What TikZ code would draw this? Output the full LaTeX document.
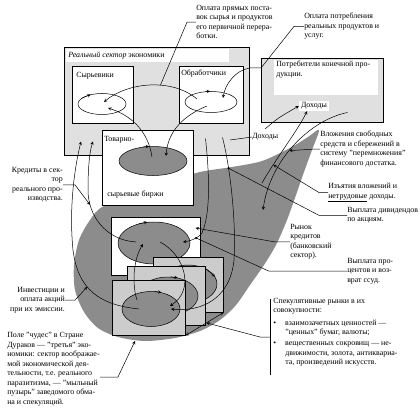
\documentclass[tikz,border=0pt]{standalone}
\usepackage{fontspec}
\setmainfont{Liberation Serif}
\usetikzlibrary{shapes.geometric}
\definecolor{pale}{gray}{0.88}
\definecolor{mid}{gray}{0.8}
\definecolor{dark}{gray}{0.55}

\begin{document}
\begin{tikzpicture}[x=1pt,y=-1pt,line width=0.5pt,
  txt/.style={inner sep=0pt,align=left,font=\fontsize{7.9}{9.5}\selectfont},
  frame/.style={draw,anchor=north west,inner sep=0pt},
  ell/.style={draw,ellipse,inner sep=0pt,fill=dark},
  arr/.style={-stealth}]
  \useasboundingbox (0,0) rectangle (420,417);

  % the "field of wonders"
  \fill[dark] plot[smooth cycle,tension=.5] coordinates {(319,130) (312,150) (304,172) (296,195)
    (287,220) (276,245) (264,265) (250,285) (236,305) (220,320) (200,331) (175,338) (145,341)
    (118,337) (98,328) (84,312) (75,290) (74,265) (79,240) (90,220) (104,206) (150,190)
    (196,173) (232,167) (262,161) (290,148) (308,137)};

  % real sector
  \node[frame,fill=pale,minimum width=185pt,minimum height=108pt] (real) at (64,47) {};
  \fill[white] (66,49) rectangle (229,62);
  \node[txt,anchor=west] (realT) at (68,56) {\textit{Реальный сектор} экономики};
  \node[frame,fill=white,minimum width=61pt,minimum height=57pt] (syr) at (72,66) {};
  \node[txt,anchor=north west] (syrT) at (76,72) {Сырьевики};
  \node[ell,fill=white,minimum width=48pt,minimum height=21pt] (syrE) at (102,104) {};
  \node[frame,fill=white,minimum width=64pt,minimum height=57pt] (obr) at (179,66) {};
  \node[txt,anchor=north west] (obrT) at (181,70) {Обработчики};
  \node[ell,fill=white,minimum width=52pt,minimum height=21pt] (obrE) at (211,102) {};
  \node[frame,fill=white,minimum width=91pt,minimum height=75pt] (tov) at (102,130) {};
  \node[txt,anchor=north west] (tovT) at (104,136) {Товарно-};
  \node[txt,anchor=north west] (tovB) at (107,191) {сырьевые биржи};
  \node[ell,minimum width=68pt,minimum height=29pt] (tovE) at (153,161) {};

  % consumers
  \node[frame,fill=pale,minimum width=122pt,minimum height=64pt] (potr) at (261,58) {};
  \fill[white] (274,60) rectangle (378,95);
  \node[txt,anchor=north west] (potrT) at (276,61) {Потребители конечной про-\\дукции.};
  \node[txt,fill=white,inner xsep=2pt,inner ysep=1.5pt] (doh1) at (314,106) {Доходы};

  % credit market and speculative markets
  \node[frame,fill=white,minimum width=89pt,minimum height=58pt] (kred) at (111,217) {};
  \node[ell,minimum width=72pt,minimum height=42pt] (kredE) at (154,243) {};
  \node[frame,fill=mid,minimum width=70pt,minimum height=55pt] (stA) at (153,257) {};
  \node[ell,minimum width=58pt,minimum height=38pt] (eA) at (188,284) {};
  \node[frame,fill=mid,minimum width=78pt,minimum height=59pt] (stB) at (127,266) {};
  \node[ell,minimum width=60pt,minimum height=38pt] (eB) at (168,296) {};
  \node[frame,fill=mid,minimum width=73pt,minimum height=55pt] (stC) at (112,280) {};
  \node[ell,minimum width=58pt,minimum height=35pt] (eC) at (151,309) {};

  \foreach \e/\a/\b in {syrE/165/140,obrE/118/95,tovE/125/105,kredE/128/108,eA/40/15,eB/82/62,eC/78/58}
    \draw[arr] (\e.\a) -- (\e.\b);

  % labels
  \node[txt,anchor=north west] (t1) at (196,5) {Оплата прямых поста-\\вок сырья и продуктов\\его первичной перера-\\ботки.};
  \node[txt,anchor=north west] (t2) at (304,13) {Оплата потребления\\реальных продуктов и\\услуг.};
  \node[txt,anchor=west] (doh2) at (252,137) {Доходы};
  \node[txt,anchor=north west] (t6) at (320,131) {Вложения свободных\\средств и сбережений в\\систему "перемножения"\\финансового достатка.};
  \node[txt,anchor=north west] (t7) at (328,183) {Изъятия вложений и\\\underline{нетрудовые} доходы.};
  \node[txt,anchor=north west] (t8) at (347,207) {Выплата дивидендов\\по акциям.};
  \node[txt,anchor=north west] (t9) at (290,224) {Рынок\\кредитов\\(банковский\\сектор).};
  \node[txt,anchor=north west] (t10) at (347,258) {Выплата про-\\центов и воз-\\врат ссуд.};
  \node[txt,anchor=north west] (spec) at (273,298) {Спекулятивные рынки в их\\совокупности:\\[3pt]
    \makebox[12pt][l]{\textbullet}взаимозачетных ценностей —\\\hspace*{12pt}"ценных" бумаг, валюты;\\[1.5pt]
    \makebox[12pt][l]{\textbullet}вещественных сокровищ — не-\\\hspace*{12pt}движимости, золота, антиквариа-\\\hspace*{12pt}та, произведений искусств.};
  \node[txt,anchor=north east,align=right] (t12) at (63,167) {Кредиты в сек-\\тор\\реального про-\\изводства.};
  \node[txt,anchor=north east,align=right] (t13) at (65,287) {Инвестиции и\\оплата акций\\при их эмиссии.};
  \node[txt,anchor=north west] (t14) at (7,332) {Поле "чудес" в Стране\\Дураков — "третья" эко-\\номики: сектор воображае-\\мой экономической дея-\\тельности, т.е. реального\\паразитизма, — "мыльный\\пузырь" заведомого обма-\\на и спекуляций.};

  \coordinate (potrIn) at (potr.west |- 0,68);
  \coordinate (dohFrom) at (265,129);
  \coordinate (takeFrom) at (262,183);
  \coordinate (pyr) at (263,210);
  \coordinate (fieldL) at (100,377);
  \coordinate (specL) at (270,337);

  % flows of the real sector
  \draw[arr] ([shift={(-14,-3)}]obrE.center) .. controls (172,78) and (128,82) .. ([shift={(2,-2)}]syrE.center) coordinate[pos=.4] (pay1);
  \draw[arr] ([shift={(-1,-4)}]tovE.center) .. controls (148,130) and (130,115) .. ([shift={(6,4)}]syrE.center);
  \draw[arr] ([shift={(-4,4)}]obrE.center) .. controls (185,115) and (168,130) .. ([shift={(13,-5)}]tovE.center);
  \draw[arr] (potrIn) -- (250,68) .. controls (235,70) and (225,85) .. ([shift={(12,-4)}]obrE.center);
  \draw (t1.west) -- ++(-9,0) -- (pay1);
  \draw (t2.west) -- ++(-10,0) -- (potrIn);

  % incomes, savings and withdrawals
  \draw[arr] (dohFrom) .. controls (278,118) .. (doh1.west);
  \draw[arr] (takeFrom) .. controls (275,160) and (298,130) .. ([xshift=-7pt]doh1.south) coordinate[pos=.25] (take);
  \draw[arr] ([shift={(-36,-10)}]potr.south east) .. controls (310,120) and (270,160) .. (pyr) coordinate[pos=.55] (inv);
  \draw[arr] (t6.west) -- ++(-7,0) -- (inv);
  \draw[arr] (t7.west) -- ++(-9,0) -- (take);
  \draw (doh2.west) -- (230,140);

  % dividends and interest
  \draw[arr] ([shift={(-27,-18)}]real.south east) .. controls (232,175) and (236,230) .. (234,260) coordinate[pos=.25] (div)
    .. controls (230,300) and (200,312) .. ([shift={(20,0)}]eC.center);
  \fill (div) circle (1.3pt);
  \draw (t8.west) -- ++(-28,0) -- (div);
  \draw[arr] ([shift={(-44,-17)}]real.south east) .. controls (210,180) and (210,215) .. (202,233)
    .. controls (197,239) and (190,241) .. ([shift={(29,-1)}]kredE.center) coordinate[pos=.35] (pct);
  \fill (pct) circle (1.3pt);
  \draw (t10.west) -- ++(-78,0) -- (pct);
  \draw[arr] (t9.west) -- ++(-15,0) -- ([shift={(-5,11)}]kred.north east);

  % credits and investments
  \draw[arr] ([shift={(-18,-1)}]kredE.center) .. controls (105,240) and (88,215) .. (88,190) coordinate[pos=.8] (cr)
    .. controls (88,165) and (90,150) .. ([shift={(29,-14)}]real.south west);
  \draw[arr] (t12.east) -- ++(12,0) -- (cr);
  \draw[arr] ([shift={(-12,0)}]eC.center) .. controls (100,305) and (78,290) .. (73,250) coordinate[pos=.6] (iv)
    .. controls (69,210) and (74,170) .. ([shift={(17,-14)}]real.south west);
  \draw[arr] (t13.east) -- ++(10,0) -- (iv);

  % speculative circulation
  \draw[arr] ([shift={(-14,-9)}]eC.center) .. controls (132,285) and (133,260) .. ([shift={(-11,1)}]kredE.center);
  \draw[arr] ([shift={(6,-1)}]kredE.center) .. controls (185,255) and (195,290) .. ([shift={(19,-3)}]eC.center);
  \draw[stealth-stealth] (stC.south east) -- (stA.south east) coordinate[pos=.55] (stk);
  \draw (270,299) -- (270,375);
  \draw[arr] (specL) -- ++(-10,0) -- (stk);
  \draw[arr] (fieldL) -- (118,377) -- (135,341);
\end{tikzpicture}
\end{document}
